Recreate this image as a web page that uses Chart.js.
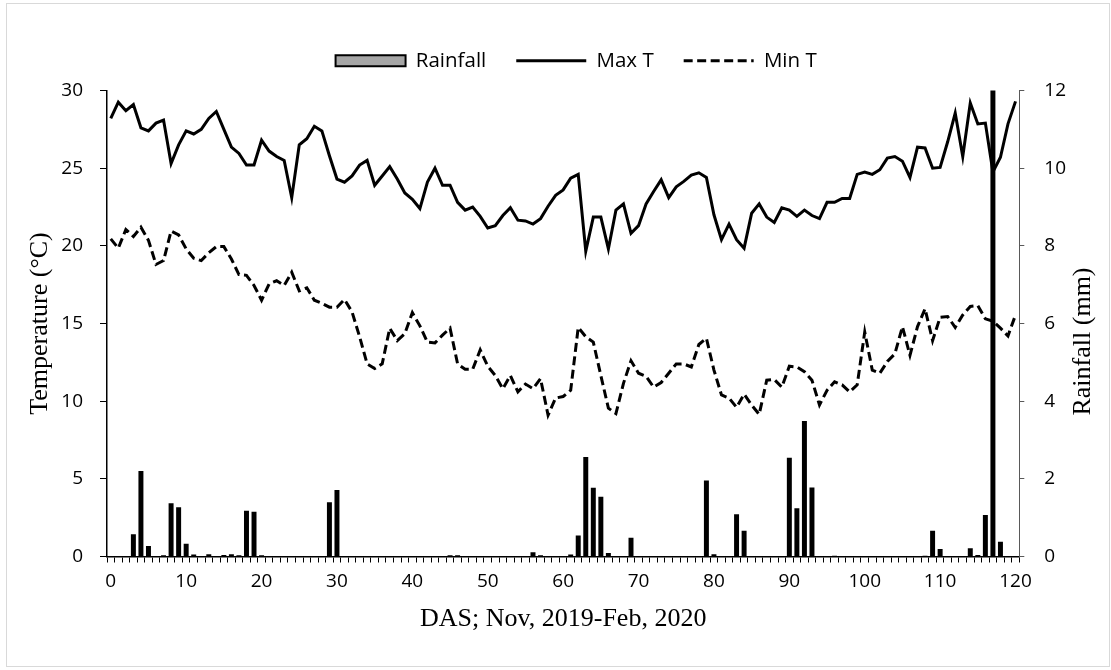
<!DOCTYPE html>
<html>
<head>
<meta charset="utf-8">
<script src="https://cdn.jsdelivr.net/npm/chart.js@4"></script>
<style>
  html, body { margin: 0; padding: 0; background: #fff; }
  #frame { position: absolute; left: 6px; top: 3px; width: 1102px; height: 662px; border: 1px solid #d9d9d9; }
  #chart { position: absolute; left: 0; top: 0; }
</style>
</head>
<body>
<div id="frame"></div>
<canvas id="chart" width="1111" height="670"></canvas>
<script>
// days after sowing, 0..120
const days = Array.from({length: 121}, (_, i) => String(i));

const maxT = [
    28.2, 29.25, 28.7, 29.1, 27.6, 27.4, 27.9, 28.1, 25.3, 26.5,
    27.4, 27.2, 27.5, 28.2, 28.65, 27.5, 26.35, 25.95, 25.2, 25.2,
    26.8, 26.1, 25.75, 25.5, 23.1, 26.5, 26.9, 27.7, 27.4, 25.8,
    24.3, 24.1, 24.5, 25.2, 25.5, 23.9, 24.5, 25.1, 24.3, 23.4,
    23.0, 22.4, 24.1, 25.0, 23.9, 23.9, 22.8, 22.3, 22.5, 21.9,
    21.15, 21.3, 21.95, 22.45, 21.65, 21.6, 21.4, 21.75, 22.55, 23.25,
    23.6, 24.35, 24.6, 19.65, 21.85, 21.85, 19.8, 22.3, 22.7, 20.8,
    21.3, 22.7, 23.5, 24.25, 23.1, 23.8, 24.15, 24.55, 24.7, 24.4,
    22.0, 20.4, 21.4, 20.4, 19.85, 22.1, 22.7, 21.85, 21.5, 22.45,
    22.3, 21.9, 22.3, 21.95, 21.75, 22.8, 22.8, 23.05, 23.05, 24.6,
    24.75, 24.6, 24.9, 25.65, 25.75, 25.45, 24.4, 26.35, 26.3, 25.0,
    25.05, 26.7, 28.55, 25.75, 29.2, 27.85, 27.9, 24.75, 25.7, 27.85,
    29.3
];

const minT = [
    20.45, 19.85, 21.05, 20.6, 21.2, 20.35, 18.8, 19.05, 20.95, 20.7,
    19.8, 19.2, 19.05, 19.55, 19.95, 19.95, 19.15, 18.15, 18.1, 17.45,
    16.5, 17.55, 17.75, 17.45, 18.3, 17.1, 17.3, 16.5, 16.3, 16.05,
    16.05, 16.55, 15.75, 14.15, 12.4, 12.1, 12.4, 14.7, 13.9, 14.35,
    15.7, 14.85, 13.8, 13.75, 14.25, 14.7, 12.4, 12.05, 12.05, 13.3,
    12.25, 11.65, 10.8, 11.65, 10.6, 11.1, 10.8, 11.45, 9.1, 10.2,
    10.3, 10.7, 14.75, 14.15, 13.8, 11.65, 9.55, 9.2, 11.15, 12.6,
    11.8, 11.6, 10.9, 11.2, 11.8, 12.4, 12.4, 12.2, 13.65, 14.05,
    12.0, 10.4, 10.2, 9.6, 10.45, 9.75, 9.15, 11.35, 11.4, 10.9,
    12.25, 12.2, 11.9, 11.35, 9.75, 10.7, 11.25, 11.05, 10.6, 11.05,
    14.45, 12.0, 11.8, 12.55, 13.05, 14.8, 12.95, 14.8, 15.95, 13.9,
    15.4, 15.45, 14.75, 15.55, 16.1, 16.15, 15.3, 15.15, 14.7, 14.2,
    15.55
];

const rainfall = [
    0, 0, 0, 0.57, 2.2, 0.27, 0, 0.03, 1.37, 1.27,
    0.33, 0.05, 0, 0.06, 0, 0.04, 0.06, 0.03, 1.18, 1.15,
    0.03, 0, 0, 0, 0, 0, 0, 0, 0, 1.4,
    1.71, 0, 0, 0, 0, 0, 0, 0, 0, 0,
    0, 0, 0, 0, 0, 0.03, 0.03, 0, 0, 0,
    0, 0, 0, 0, 0, 0, 0.11, 0.03, 0, 0,
    0, 0.05, 0.54, 2.56, 1.77, 1.54, 0.09, 0, 0, 0.48,
    0, 0, 0, 0, 0, 0, 0, 0, 0, 1.96,
    0.06, 0, 0, 1.09, 0.66, 0, 0, 0, 0, 0,
    2.54, 1.24, 3.49, 1.78, 0, 0, 0.02, 0, 0, 0,
    0, 0, 0, 0, 0, 0, 0, 0, 0.02, 0.66,
    0.19, 0, 0, 0, 0.21, 0.04, 1.07, 13, 0.38, 0,
    0
];

const tempTicks = {min: 0, max: 30, step: 5};
const rainTicks = {min: 0, max: 12, step: 2};

const tickFont = {family: "'Open Sans'", size: 19};
const titleFont = {family: "'Liberation Serif'", size: 26};

// right-hand title reads bottom-to-top like the left one
const rightTitle = {
    id: "rightTitle",
    afterDraw(chart) {
        const ctx = chart.ctx;
        const s = chart.scales.y1;
        const area = chart.chartArea;
        ctx.save();
        ctx.translate(s.right + 17.3, (area.top + area.bottom) / 2 + 18);
        ctx.rotate(-Math.PI / 2);
        ctx.font = "26px 'Liberation Serif'";
        ctx.fillStyle = "#000";
        ctx.textAlign = "center";
        ctx.textBaseline = "middle";
        ctx.fillText("Rainfall (mm)", 0, 0);
        ctx.restore();
    }
};

// legend sits a little right of the plot centre in the original
const legendShift = {
    id: "legendShift",
    afterLayout(chart) {
        chart.legend.left += 13;
        chart.legend.right += 13;
    }
};

new Chart(document.querySelector("#chart"), {
    type: "bar",
    data: {
        labels: days,
        datasets: [
            {
                label: "Rainfall",
                data: rainfall,
                yAxisID: "y1",
                backgroundColor: "#000",
                barPercentage: 0.66,
                categoryPercentage: 1,
                order: 2
            },
            {
                type: "line",
                label: "Max T",
                data: maxT,
                yAxisID: "y",
                borderColor: "#000",
                borderWidth: 3,
                pointRadius: 0,
                tension: 0,
                order: 1
            },
            {
                type: "line",
                label: "Min T",
                data: minT,
                yAxisID: "y",
                borderColor: "#000",
                borderWidth: 3,
                borderDash: [9, 4.5],
                pointRadius: 0,
                tension: 0,
                order: 1
            }
        ]
    },
    options: {
        responsive: false,
        animation: false,
        layout: {padding: {left: 24.4, right: 45, top: 20.5, bottom: 35.4}},
        plugins: {
            tooltip: {enabled: false},
            // empty title used as a spacer between legend and plot
            title: {
                display: true,
                text: " ",
                font: {size: 1},
                padding: {top: 0, bottom: 8.3},
                weight: 100
            },
            legend: {
                position: "top",
                fullSize: false,
                labels: {
                    usePointStyle: true,
                    pointStyleWidth: 70,
                    boxHeight: 11,
                    padding: 30,
                    color: "#000",
                    font: {family: "'Open Sans'", size: 20.5},
                    generateLabels: () => [
                        {text: "Rainfall", fillStyle: "#a6a6a6", strokeStyle: "#000", lineWidth: 2, pointStyle: "rect", datasetIndex: 0},
                        {text: "Max T", fillStyle: "#000", strokeStyle: "#000", lineWidth: 3, pointStyle: "line", datasetIndex: 1},
                        {text: "Min T", fillStyle: "#000", strokeStyle: "#000", lineWidth: 3, lineDash: [9, 4.5], pointStyle: "line", datasetIndex: 2}
                    ]
                }
            }
        },
        scales: {
            x: {
                type: "category",
                offset: true,
                grid: {offset: true, drawOnChartArea: false, tickLength: 6, color: "#000"},
                border: {color: "#000", width: 1.5},
                ticks: {
                    autoSkip: false,
                    maxRotation: 0,
                    minRotation: 0,
                    padding: 7.5,
                    color: "#000",
                    font: tickFont,
                    callback: (value, index) => index % 10 === 0 ? days[index] : ""
                },
                title: {
                    display: true,
                    text: "DAS; Nov, 2019-Feb, 2020",
                    color: "#000",
                    font: titleFont,
                    padding: {top: 3.1, bottom: 0}
                }
            },
            y: {
                position: "left",
                min: tempTicks.min,
                max: tempTicks.max,
                afterFit: scale => { scale.width = 82.6; },
                grid: {drawOnChartArea: false, tickLength: 7, color: "#000"},
                border: {color: "#000", width: 1.5},
                ticks: {stepSize: tempTicks.step, padding: 17, color: "#000", font: tickFont},
                title: {
                    display: true,
                    text: "Temperature (°C)",
                    color: "#000",
                    font: titleFont,
                    padding: {top: 0, bottom: 0}
                }
            },
            y1: {
                position: "right",
                min: rainTicks.min,
                max: rainTicks.max,
                afterFit: scale => { scale.width = 46.7; },
                grid: {drawOnChartArea: false, tickLength: 5, color: "#595959"},
                border: {color: "#595959", width: 1},
                ticks: {stepSize: rainTicks.step, padding: 20, color: "#000", font: tickFont}
            }
        }
    },
    plugins: [rightTitle, legendShift]
});
</script>
</body>
</html>
